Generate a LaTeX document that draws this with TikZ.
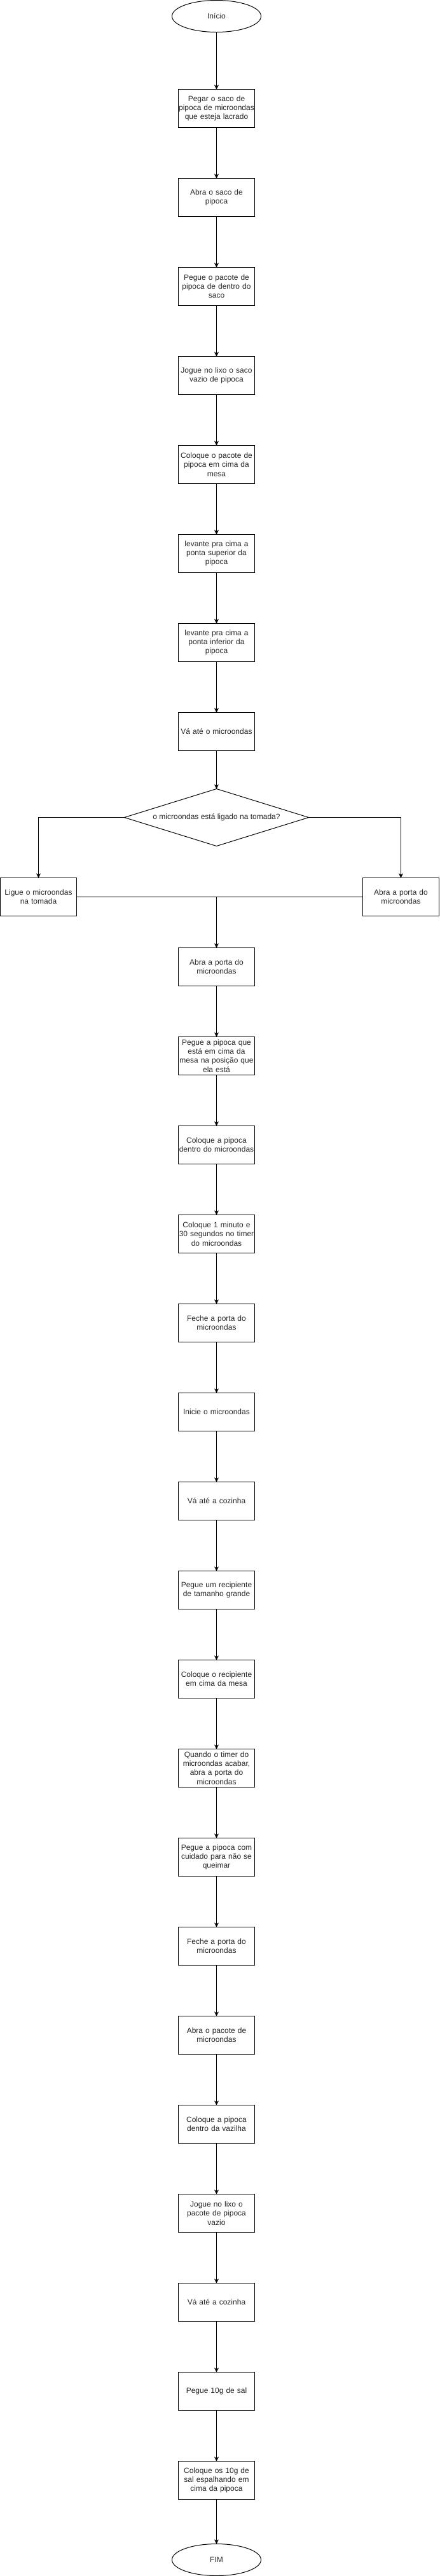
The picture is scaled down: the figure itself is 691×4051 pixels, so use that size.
\documentclass[tikz,border=0pt]{standalone}
\usepackage{fontspec}
\setmainfont{Liberation Sans}
\usetikzlibrary{arrows.meta,shapes,positioning}
\tikzset{
  %Define standard arrow tip
    >={Stealth[length=7pt,width=7pt,inset=2pt]},
  %define style for boxes
  caixa/.style={
    rectangle,
    draw=black, line width=1pt,
    text width=120pt,
    inner sep=0pt, outer sep=0pt,
    minimum height=60pt,
    font=\fontsize{12}{14.2}\selectfont,
    text=black!85,
    align=center},
  terminal/.style={
    ellipse,
    draw=black, line width=1pt,
    inner sep=0pt, outer sep=0pt,
    minimum width=140pt,
    minimum height=50pt,
    font=\fontsize{12}{14.2}\selectfont,
    text=black!85},
  pergunta/.style={
    diamond,
    aspect=3.2,
    draw=black, line width=1pt,
    inner sep=0pt, outer sep=0pt,
    minimum width=290pt,
    minimum height=90pt,
    font=\fontsize{12}{14.2}\selectfont,
    text=black!85},
  %define style for arrows
  myarrow/.style={
    ->,
    line width=1pt}
}
\begin{document}
\begin{tikzpicture}[x=1pt, y=1pt, node distance=80pt]
\useasboundingbox (0,0) rectangle (691,-4051);
%nodes
\node[terminal] (inicio) at (340.5,-25.5) {Início};

\node[caixa, below=90pt of inicio] (pegarsaco)
     {Pegar o saco de\\ pipoca de microondas\\ que esteja lacrado};
\node[caixa, below=of pegarsaco] (abrasaco)
     {Abra o saco de\\ pipoca};
\node[caixa, below=of abrasaco] (pegarpacote)
     {Pegue o pacote de\\ pipoca de dentro do\\ saco};
\node[caixa, below=of pegarpacote] (lixosaco)
     {Jogue no lixo o saco\\ vazio de pipoca};
\node[caixa, below=of lixosaco] (mesapacote)
     {Coloque o pacote de\\ pipoca em cima da\\ mesa};
\node[caixa, below=of mesapacote] (pontasup)
     {levante pra cima a\\ ponta superior da\\ pipoca};
\node[caixa, below=of pontasup] (pontainf)
     {levante pra cima a\\ ponta inferior da\\ pipoca};
\node[caixa, below=of pontainf] (vamicro)
     {Vá até o microondas};

\node[pergunta, below=60pt of vamicro] (tomada)
     {o microondas está ligado na tomada?};
\node[caixa, below=50pt of tomada, xshift=-280pt] (ligue)
     {Ligue o microondas\\ na tomada};
\node[caixa, below=50pt of tomada, xshift=290pt] (abraporta)
     {Abra a porta do\\ microondas};

\node[caixa, below=160pt of tomada] (abraporta2)
     {Abra a porta do\\ microondas};
\node[caixa, below=of abraporta2] (pegapipoca)
     {Pegue a pipoca que\\ está em cima da\\ mesa na posição que\\ ela está};
\node[caixa, below=of pegapipoca] (dentromicro)
     {Coloque a pipoca\\ dentro do microondas};
\node[caixa, below=of dentromicro] (timer)
     {Coloque 1 minuto e\\ 30 segundos no timer\\ do microondas};
\node[caixa, below=of timer] (fecha)
     {Feche a porta do\\ microondas};
\node[caixa, below=of fecha] (inicie)
     {Inicie o microondas};
\node[caixa, below=of inicie] (cozinha)
     {Vá até a cozinha};
\node[caixa, below=of cozinha] (recipiente)
     {Pegue um recipiente\\ de tamanho grande};
\node[caixa, below=of recipiente] (mesarecip)
     {Coloque o recipiente\\ em cima da mesa};
\node[caixa, below=of mesarecip] (acabar)
     {Quando o timer do\\ microondas acabar,\\ abra a porta do\\ microondas};
\node[caixa, below=of acabar] (cuidado)
     {Pegue a pipoca com\\ cuidado para não se\\ queimar};
\node[caixa, below=of cuidado] (fecha2)
     {Feche a porta do\\ microondas};
\node[caixa, below=of fecha2] (abrepacote)
     {Abra o pacote de\\ microondas};
\node[caixa, below=of abrepacote] (vazilha)
     {Coloque a pipoca\\ dentro da vazilha};
\node[caixa, below=of vazilha] (lixopacote)
     {Jogue no lixo o\\ pacote de pipoca\\ vazio};
\node[caixa, below=of lixopacote] (cozinha2)
     {Vá até a cozinha};
\node[caixa, below=of cozinha2] (sal)
     {Pegue 10g de sal};
\node[caixa, below=of sal] (espalha)
     {Coloque os 10g de\\ sal espalhando em\\ cima da pipoca};

\node[terminal, below=70pt of espalha] (fim) {FIM};

\coordinate (junta) at (ligue.east -| abraporta2.north);

%arrows
\draw[myarrow] (inicio) -- (pegarsaco);
\draw[myarrow] (pegarsaco) -- (abrasaco);
\draw[myarrow] (abrasaco) -- (pegarpacote);
\draw[myarrow] (pegarpacote) -- (lixosaco);
\draw[myarrow] (lixosaco) -- (mesapacote);
\draw[myarrow] (mesapacote) -- (pontasup);
\draw[myarrow] (pontasup) -- (pontainf);
\draw[myarrow] (pontainf) -- (vamicro);
\draw[myarrow] (vamicro) -- (tomada);

\draw[myarrow] (tomada.west) -| (ligue.north);
\draw[myarrow] (tomada.east) -| (abraporta.north);
\draw[line width=1pt] (ligue.east) -- (junta);
\draw[line width=1pt] (abraporta.west) -- (junta);
\draw[myarrow] (junta) -- (abraporta2.north);

\draw[myarrow] (abraporta2) -- (pegapipoca);
\draw[myarrow] (pegapipoca) -- (dentromicro);
\draw[myarrow] (dentromicro) -- (timer);
\draw[myarrow] (timer) -- (fecha);
\draw[myarrow] (fecha) -- (inicie);
\draw[myarrow] (inicie) -- (cozinha);
\draw[myarrow] (cozinha) -- (recipiente);
\draw[myarrow] (recipiente) -- (mesarecip);
\draw[myarrow] (mesarecip) -- (acabar);
\draw[myarrow] (acabar) -- (cuidado);
\draw[myarrow] (cuidado) -- (fecha2);
\draw[myarrow] (fecha2) -- (abrepacote);
\draw[myarrow] (abrepacote) -- (vazilha);
\draw[myarrow] (vazilha) -- (lixopacote);
\draw[myarrow] (lixopacote) -- (cozinha2);
\draw[myarrow] (cozinha2) -- (sal);
\draw[myarrow] (sal) -- (espalha);
\draw[myarrow] (espalha) -- (fim);

\end{tikzpicture}
\end{document}
